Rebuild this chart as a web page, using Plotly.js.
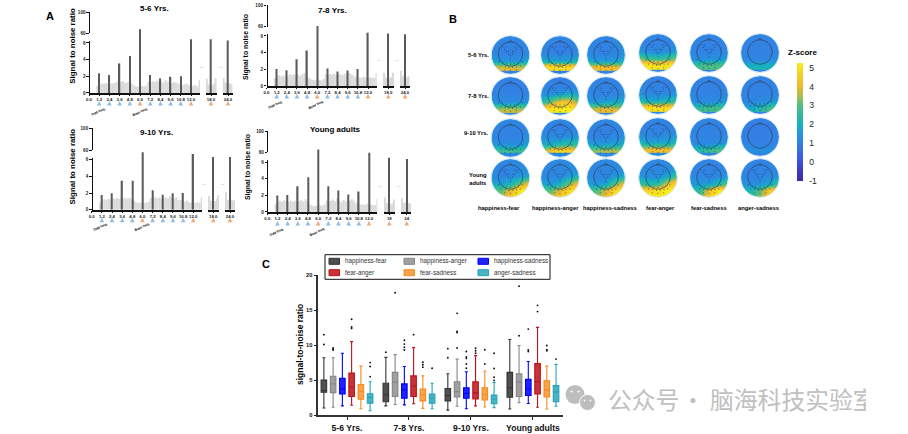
<!DOCTYPE html>
<html><head><meta charset="utf-8">
<script src="https://cdn.plot.ly/plotly-3.0.1.min.js"></script>
<style>html,body{margin:0;padding:0;background:#fff;overflow:hidden}#c{width:908px;height:434px;position:absolute;left:0;top:0}#cut{position:absolute;left:866px;top:380px;width:42px;height:36px;background:#fff}</style>
</head><body><div id="c"></div><div id="cut"></div>
<script>
// ---------- DATA: panel A ----------
const ageGroups = ['5-6 Yrs.','7-8 Yrs.','9-10 Yrs.','Young adults'];
const peakFreqs = [1.2,2.4,3.6,4.8,6.0,7.2,8.4,9.6,10.8,12.0];
const oddFreqs = [1.2,2.4,3.6,4.8,7.2,8.4,9.6,10.8];
const baseFreqs = [6.0,12.0];
const peaks_5_6 = [2.37,2.15,3.55,4.45,7.65,2.15,1.75,1.95,2.0,6.45];
const peaks_7_8 = [2.05,1.9,3.2,4.25,7.2,2.1,1.75,1.85,2.05,6.4];
const peaks_9_10 = [1.76,1.96,3.48,3.48,6.88,2.32,1.8,1.96,2.0,6.68];
const peaks_adult = [2.0,2.04,3.12,4.2,7.56,3.12,2.6,2.12,2.48,7.16];
const peak18 = [6.45,6.3,6.32,6.56];
const peak24 = [6.3,6.2,6.32,6.4];
const noise_5_6 = [.85,1.0,1.15,1.1,1.2,1.05,1.15,1.1,1.2,1.35,1.5,1.3,1.45,1.2,1.3,1.35,1.15,.95,.8,.75,.7,.85,.8,.9,1.35,1.25,1.4,1.3,1.5,1.35,1.4,1.25,1.55,1.3,1.45,1.2,1.35,1.25,1.15,1.0,.95,1.05,1.1,.9,1.0,.85,.95,.8,1.6];
const noise_7_8 = [.95,1.2,1.3,1.15,1.25,1.1,1.2,1.45,1.3,1.4,1.25,1.35,1.2,1.4,1.55,1.3,.95,.8,.75,.7,.8,.75,.7,.85,1.4,1.3,1.45,1.35,1.5,1.3,1.45,1.4,1.3,1.5,1.35,1.55,1.4,1.25,1.1,1.0,1.05,.95,1.1,1.0,.9,1.05,.95,1.0,1.5];
const noise_9_10 = [.9,1.1,1.25,1.2,1.3,1.2,1.35,1.25,1.4,1.3,1.45,1.35,1.4,1.3,1.4,1.25,1.1,.9,.8,.85,.7,.8,.85,.95,1.4,1.3,1.5,1.35,1.45,1.3,1.4,1.5,1.35,1.6,1.45,1.35,1.5,1.2,1.15,1.0,.95,1.1,.9,.85,.95,.8,.9,.85,1.5];
const noise_adult = [1.0,1.15,1.35,1.25,1.45,1.3,1.2,1.4,1.25,1.35,1.2,1.3,1.45,1.25,1.55,1.3,.95,.8,.7,.75,.65,.8,.75,.9,1.4,1.25,1.35,1.5,1.3,1.6,1.35,1.2,1.45,1.3,1.5,1.4,1.55,1.3,1.05,.95,.85,.95,.8,1.0,.85,.9,.8,.85,1.6];
const noise18_5_6 = [1.7,1.1,.9,1.15,1.0,.95,1.2,1.8];
const noise18_7_8 = [1.6,1.05,.95,1.1,.9,1.0,1.1,1.6];
const noise18_9_10 = [1.65,1.2,1.0,1.1,.95,1.05,1.3,1.7];
const noise18_adult = [1.75,1.0,1.1,.85,1.05,.9,1.05,1.5];
const noise24_5_6 = [1.8,1.1,1.25,.95,1.1,1.2,1.05,1.0];
const noise24_7_8 = [1.8,1.15,1.0,1.2,1.1,.95,1.15,1.1];
const noise24_9_10 = [2.1,1.2,1.05,1.2,.95,1.15,1.05,1.1];
const noise24_adult = [1.65,1.1,1.0,1.15,.9,1.1,1.05,1.0];

// ---------- DATA: panel B (rows run from the top of the head to the back) ----------
const pairNames = ['happiness-fear','happiness-anger','happiness-sadness','fear-anger','fear-sadness','anger-sadness'];
const topoRowLabels = ['5-6 Yrs.','7-8 Yrs.','9-10 Yrs.','Young<br>adults'];
const topo_5_6 = [
 [[1.3,1.2,1.2,1.2,1.3],[1.1,1,1,1,1.2],[1.2,1,1,1,1.3],[1.9,1.5,1.4,1.5,2],[3.4,3.6,3.5,3.5,3.2],[4.4,4.8,4.8,4.6,4.2]],
 [[1.2,1.2,1.1,1.2,1.2],[1,1,.9,1,1.1],[1.1,1,1,1,1.2],[2.1,1.8,1.7,1.8,2.3],[4.2,4.8,4.8,4.7,4.1],[4.9,5.2,5.2,5.2,4.9]],
 [[1.2,1.1,1.1,1.2,1.3],[1.1,1,1,1.1,1.3],[1.2,1,1,1.1,1.4],[2,1.6,1.6,1.7,2.1],[3.5,4,4.1,3.9,3.3],[4.2,4.6,4.7,4.4,4]],
 [[1.2,1.1,1.1,1.2,1.2],[1.1,1,1,1,1.2],[1.4,1.2,1.2,1.3,1.6],[3.5,2.8,2.6,2.9,3.6],[4.8,5,5,5,4.8],[5.2,5.2,5.2,5.2,5.1]],
 [[1.2,1.1,1.1,1.1,1.2],[1.1,1,1,1,1.1],[1.2,1,1,1.1,1.2],[1.5,1.3,1.4,1.5,1.7],[2.3,2.6,2.8,2.8,2.4],[3,3.2,3.3,3.2,2.8]],
 [[1.2,1.1,1.1,1.1,1.2],[1.1,1,1,1,1.1],[1.1,1,1,1,1.1],[1.3,1.1,1.1,1.2,1.4],[1.7,1.8,1.9,1.9,1.7],[2.2,2.3,2.4,2.3,2.1]]];
const topo_7_8 = [
 [[1.1,1,1,1.1,1.2],[1,1,.9,1,1.1],[1.1,1,1,1,1.2],[1.5,1.3,1.3,1.4,1.6],[3,3.3,3.4,3.3,2.9],[4.1,4.3,4.4,4.3,3.9]],
 [[1,.9,.9,1,1.1],[1.1,1,1,1,1.3],[1.4,1.3,1.7,1.9,1.6],[2.1,3.2,4.3,4.4,2.8],[4.2,5,5.2,5.2,4.4],[4.9,5.2,5.2,5.2,5]],
 [[1,1,1,1,1.1],[1.1,1,1,1,1.2],[1.2,1,1,1.1,1.3],[1.7,1.5,1.7,1.9,2],[3.2,3.6,3.8,3.7,3.2],[4.1,4.4,4.6,4.4,4]],
 [[1.1,1,1,1,1.2],[1.1,1,1,1,1.2],[1.3,1.1,1.1,1.2,1.5],[2.4,1.9,1.9,2.2,2.6],[4.4,4.9,4.9,4.8,4.3],[5,5.2,5.2,5.2,5]],
 [[1.1,1,1,1,1.1],[1,1,1,1,1],[1.1,1,1,1,1.1],[1.3,1.2,1.2,1.4,1.5],[2.2,2.4,2.6,2.7,2.4],[2.9,3.1,3.2,3.1,2.8]],
 [[1,1,1,1,1.1],[1,1,1,1,1],[1,1,1,1,1.1],[1.1,1.1,1.2,1.4,1.7],[1.6,1.7,2.1,2.7,2.7],[2,2.3,2.8,3.3,3]]];
const topo_9_10 = [
 [[1.3,1.2,1.2,1.2,1.4],[1.1,1,1,1,1.2],[1.2,1,1,1.1,1.4],[1.5,1.3,1.3,1.4,1.8],[2.4,2.6,2.6,2.6,2.3],[3,3.2,3.3,3,2.7]],
 [[1.2,1.1,1.1,1.2,1.3],[1.1,1,1,1,1.2],[1.3,1.2,1.2,1.3,1.5],[1.9,1.8,2.2,2.5,2.4],[3,4.2,4.8,4.6,3.6],[3.6,4.4,4.8,4.7,4]],
 [[1.2,1.2,1.1,1.2,1.3],[1.1,1,1,1,1.2],[1.2,1,1,1.1,1.4],[1.7,1.5,1.6,1.7,2.1],[3,3.3,3.5,3.5,3.1],[3.6,3.8,4,3.9,3.5]],
 [[1.2,1.1,1.1,1.1,1.2],[1.1,1,1,1,1.2],[1.3,1.1,1.1,1.2,1.5],[2.2,1.8,1.8,1.9,2.4],[3.7,4,4.1,4,3.6],[4.2,4.5,4.6,4.4,4.1]],
 [[1.2,1.1,1.1,1.1,1.2],[1.1,1,1,1,1.1],[1.1,1,1,1,1.2],[1.3,1.2,1.2,1.4,1.6],[2,2.2,2.5,2.8,2.7],[2.6,2.9,3.2,3.3,3]],
 [[1.1,1,1,1,1.1],[1,.9,.9,.9,1],[1,.9,.9,1,1],[1.1,1,1,1,1.1],[1.3,1.3,1.3,1.4,1.3],[1.5,1.5,1.6,1.6,1.5]]];
const topo_adult = [
 [[1.3,1.2,1.2,1.3,1.4],[1.2,1,1.1,1.2,1.4],[1.3,1.1,1.2,1.5,1.9],[1.9,1.7,2.1,3.4,4.6],[3,3,4,5.2,5.2],[3.2,3.6,4.6,5.2,5.2]],
 [[1.3,1.2,1.2,1.2,1.4],[1.2,1.1,1.1,1.2,1.4],[1.3,1.1,1.2,1.6,2.1],[1.8,1.6,2,3.4,4.7],[2.9,3,4,5,5.2],[3.4,3.7,4.5,5,5]],
 [[1.3,1.2,1.2,1.2,1.4],[1.2,1.1,1.1,1.2,1.4],[1.3,1.1,1.1,1.5,2],[1.7,1.5,1.8,3.2,4.5],[2.7,2.9,3.8,5,5.2],[3,3.4,4.2,5,5]],
 [[1.3,1.2,1.2,1.2,1.4],[1.2,1.1,1.1,1.2,1.7],[1.5,1.3,1.3,1.8,3],[2.8,2.3,2.4,4.2,5.1],[4.6,4.8,5,5.2,5.2],[5,5.2,5.2,5.2,5.2]],
 [[1.2,1.1,1.1,1.1,1.2],[1.1,1,1,1,1.2],[1.2,1.1,1.1,1.2,1.5],[1.6,1.5,1.6,2.4,3.2],[2.3,2.4,4.2,5.2,4.6],[2.6,3,4.8,5.2,4.4]],
 [[1.2,1.1,1.1,1.1,1.2],[1.1,1,1,1,1.2],[1.2,1,1.1,1.2,1.5],[1.5,1.3,1.4,1.9,2.8],[2,2.1,3,4.6,4.2],[2.4,2.7,3.5,4.5,3.8]]];
const topoGrids = [topo_5_6,topo_7_8,topo_9_10,topo_adult];
// significant electrodes: unit-circle positions, and which groups each map marks
const backElecU = [-.62,-.42,-.22,0,.22,.42,.62,-.5,-.28,-.08,.12,.32,.52,-.3,0,.3];
const backElecV = [.36,.42,.46,.48,.46,.42,.36,.58,.62,.64,.64,.62,.58,.78,.8,.78];
const frontElecU = [-.4,-.3,-.2,-.1,0,.1,.2,.3,.4,-.25,-.1,.1,.25,0];
const frontElecV = [-.42,-.3,-.18,-.06,.04,-.06,-.18,-.3,-.42,-.42,-.2,-.2,-.42,.2];
const hasBack = [[1,1,1,1,1,0],[1,1,1,1,1,1],[1,1,1,1,1,0],[1,1,1,1,1,1]];
const hasFront = [[1,1,1,1,1,0],[0,1,1,1,0,0],[0,1,1,1,0,0],[1,1,1,1,1,1]];
const zTicks = [-1,0,1,2,3,4,5];
const zTickText = ['-1','0','1','2','3','4','5'];

// ---------- DATA: panel C ----------
const groupNames = ['5-6 Yrs.','7-8 Yrs.','9-10 Yrs.','Young adults'];
const hfStats = {lo:[1,1.3,.7,.85],q1:[3.25,1.9,2,2.55],med:[3.5,2.9,2.8,3.9],q3:[5,4.55,3.8,6.1],hi:[8.2,8.25,5.9,10.8]};
const haStats = {lo:[1.1,1.5,1.25,1.75],q1:[3.2,2.65,2.6,2.65],med:[4.45,4.7,3.35,4.7],q3:[5.55,6.1,4.75,5.9],hi:[8.2,8.65,8,9.95]};
const hsStats = {lo:[1.3,1.45,.9,1.65],q1:[3,2.4,2.4,2.8],med:[3.7,3.6,3.1,3.75],q3:[5.25,4.45,3.9,5.1],hi:[8.85,6.95,6.2,7.65]};
const faStats = {lo:[1.4,1.6,1.3,1.1],q1:[2.65,2.65,2.3,3],med:[4,4.15,3.2,4.75],q3:[6,5.6,4.75,7.35],hi:[10.5,9.65,8.5,12.55]};
const fsStats = {lo:[.9,.95,1.15,.85],q1:[2.25,2,2.15,2.6],med:[3.4,2.9,2.95,3.6],q3:[4.35,3.7,3.9,4.9],hi:[7,5.6,6.3,7]};
const asStats = {lo:[.6,.9,1.05,1.25],q1:[1.7,1.7,1.6,1.9],med:[2.5,2.4,2.25,3.3],q3:[3.05,3,2.85,4.2],hi:[4.75,4.55,4.65,7.25]};
const hfOut = [[10.1,11.5],[9],[8.2,9.5],[]];
const haOut = [[9.3,9.6,9.4],[17.5],[9.6,11.8,11.95,14.55],[11.35,18.45]];
const hsOut = [[],[10.7,10.15,9.7,9.3],[6.7,7.3,8.1,8.3,9.1],[9.1,9.3,12.3]];
const faOut = [[12.4,12.6,13.7],[11.5],[8.85,9.2,9.55],[14.8,15.7]];
const fsOut = [[],[7.55,7.2,6.85],[7.3,9.35],[9.2,9.35,9.95]];
const asOut = [[5.5,6.95,7.5],[6.7],[4.95,5.4,6.65,8.85],[8]];
const yTicksC = [0,5,10,15,20];

// ---------- STYLES AND GEOMETRY ----------
const W=908,H=434,FONT='Liberation Sans';
const px=x=>x/W, py=y=>1-y/H;
const blue='#8fbce6', orange='#f0a878', noiseCol='#dadada', peakCol='#5a5a5a';
const boxStyle=[['#333333','rgba(60,60,60,.9)'],['#858585','rgba(150,150,150,.9)'],['#0000ff','rgba(15,15,250,.92)'],['#c0101a','rgba(190,30,35,.9)'],['#f58a1e','rgba(245,155,60,.9)'],['#20a5b8','rgba(55,170,190,.9)']];
const boxData=[[hfStats,hfOut],[haStats,haOut],[hsStats,hsOut],[faStats,faOut],[fsStats,fsOut],[asStats,asOut]];
const panels=[
 {peaks:peaks_5_6,noise:noise_5_6,n18:noise18_5_6,n24:noise24_5_6,x0:89,xEnd:200,x12:191,y0:93,y6:43,u60:33,u100:12,s18:[205.7,216.7,211],s24:[222.7,232.5,228],tri:104,title:[154,9],yl:[72.7,46],noteY:112,notes:[98,140],dash:[[201.7,67],[220.7,67]],boldLabel:true,suffix:'.0'},
 {peaks:peaks_7_8,noise:noise_7_8,n18:noise18_7_8,n24:noise24_7_8,x0:266.5,xEnd:376.7,x12:368,y0:86,y6:36,u60:26.7,u100:5.3,s18:[383,394,388.3],s24:[400,409.5,405],tri:97,title:[332.7,10],yl:[246,47],noteY:105,notes:[275,315.7],dash:[[378.7,60.3],[397.3,60.3]],boldLabel:false,suffix:'.0'},
 {peaks:peaks_9_10,noise:noise_9_10,n18:noise18_9_10,n24:noise24_9_10,x0:91.7,xEnd:202,x12:193.3,y0:209.7,y6:159.7,u60:150,u100:128.3,s18:[208,219,213.3],s24:[225,235,230],tri:220.7,title:[156.7,133],yl:[72.7,166.7],noteY:227,notes:[100.3,142],dash:[[204,183.7],[223,183.7]],boldLabel:true,suffix:'.0'},
 {peaks:peaks_adult,noise:noise_adult,n18:noise18_adult,n24:noise24_adult,x0:267.3,xEnd:377.3,x12:369,y0:212,y6:162.3,u60:152.3,u100:131,s18:[384,395,389.3],s24:[401,411,406.7],tri:224,title:[335.7,129.3],yl:[247.3,166.7],noteY:231.7,notes:[276.7,317],dash:[[380,186],[399,186]],boldLabel:false,suffix:''}
];
const traces=[],layout={width:W,height:H,autosize:false,margin:{l:0,r:0,t:0,b:0},paper_bgcolor:'#fff',plot_bgcolor:'rgba(0,0,0,0)',showlegend:false,barmode:'overlay',font:{family:FONT,color:'#000'},annotations:[],shapes:[]};
let axN=0; const nextAx=()=>{axN++;return axN===1?'':String(axN)};
const note=(x,y,text,size,opt={})=>layout.annotations.push(Object.assign({xref:'paper',yref:'paper',x:px(x),y:py(y),text,showarrow:false,xanchor:opt.anchor||'center',yanchor:'middle',font:{size,family:FONT,color:opt.color||'#000',weight:opt.weight===undefined?700:opt.weight}},opt.extra||{}));
const skip={hoverinfo:'skip',showlegend:false};

// ---------- PANEL B axis comes first ----------
const bIdx=nextAx();
layout['xaxis'+bIdx]={domain:[px(480),px(790)],range:[480,790],visible:false,fixedrange:true};
layout['yaxis'+bIdx]={domain:[py(205),py(30)],range:[205,30],visible:false,fixedrange:true};
layout.coloraxis={cmin:-1,cmax:5.25,
 colorscale:[[0,'#3d26a8'],[.16,'#3e4fdc'],[.32,'#3282e4'],[.4,'#2396dc'],[.48,'#16b4bc'],[.64,'#50c080'],[.72,'#a8bf50'],[.8,'#f0b830'],[.96,'#f8e020'],[1,'#f9f018']],
 colorbar:{x:px(796.7),xanchor:'left',y:py(122),yanchor:'middle',thickness:5.5,thicknessmode:'pixels',len:117.5,lenmode:'pixels',outlinewidth:0,xpad:0,ypad:0,tickmode:'array',tickvals:zTicks,ticktext:zTickText,ticks:'outside',ticklen:5,tickcolor:'rgba(255,255,255,0)',tickfont:{size:8.5,family:FONT,color:'#222'}}};
const colX=[510.5,560,606,658,709,760], rowYLeft=[55,96,138,178], rowYRight=[53,95,137,178], R=19;
const gridU=[-1.05,-.5,0,.5,1.05], gridV=[-1.05,-.5,-.1,.3,.6,1.05];
const circ=(cx,cy,r)=>{const k=.5523*r;return `M${cx-r},${cy} C${cx-r},${cy-k} ${cx-k},${cy-r} ${cx},${cy-r} C${cx+k},${cy-r} ${cx+r},${cy-k} ${cx+r},${cy} C${cx+r},${cy+k} ${cx+k},${cy+r} ${cx},${cy+r} C${cx-k},${cy+r} ${cx-r},${cy+k} ${cx-r},${cy} Z`;};
let maskPath='M478,28 L792,28 L792,207 L478,207 Z ', headPath='', rimPath='';
const dotX=[],dotY=[];
topoGrids.forEach((grid,r)=>grid.forEach((z,c)=>{
  const cx=colX[c], cy=(c<3?rowYLeft:rowYRight)[r];
  traces.push(Object.assign({type:'heatmap',xaxis:'x'+bIdx,yaxis:'y'+bIdx,x:gridU.map(u=>cx+R*u),y:gridV.map(v=>cy+R*v),z,zsmooth:'best',coloraxis:'coloraxis'},skip));
  maskPath+=circ(cx,cy,R)+' ';
  rimPath+=circ(cx,cy,R+.4)+' ';
  headPath+=circ(cx,cy-1,R*.64)+` M${cx-2},${cy-1-R*.63} L${cx},${cy-1-R*.72} L${cx+2},${cy-1-R*.63} `;
  if(hasBack[r][c]) backElecU.forEach((u,i)=>{dotX.push(cx+R*u);dotY.push(cy+R*backElecV[i]);});
  if(hasFront[r][c]) frontElecU.forEach((u,i)=>{dotX.push(cx+R*u);dotY.push(cy+R*frontElecV[i]);});
}));
traces.push(Object.assign({type:'scatter',mode:'markers',xaxis:'x'+bIdx,yaxis:'y'+bIdx,x:dotX,y:dotY,marker:{size:1.1,color:'#1a2a3a',opacity:.7}},skip));
const bRef={xref:'x'+bIdx,yref:'y'+bIdx,layer:'above'};
layout.shapes.push(Object.assign({type:'path',path:maskPath,fillcolor:'#fff',fillrule:'evenodd',line:{width:0}},bRef));
layout.shapes.push(Object.assign({type:'path',path:rimPath,line:{color:'#d5e8f5',width:1}},bRef));
layout.shapes.push(Object.assign({type:'path',path:headPath,line:{color:'#2f3d5c',width:.7}},bRef));
const rowLabelY=[55,96,133,179], rowLabelX=[478,478,476,478];
topoRowLabels.forEach((t,i)=>note(rowLabelX[i],rowLabelY[i],t,5.8));
const colLabelX=[499,555.5,610,660.7,709,758];
pairNames.forEach((t,i)=>note(colLabelX[i],208,t,5.8));
note(802,52.7,'Z-score',8);
note(453,19,'B',11);

// ---------- PANEL A ----------
panels.forEach((p,pi)=>{
  const pxHz=(p.x12-p.x0)/12;
  const xM=nextAx(),x18=nextAx(),x24=nextAx(),yD=nextAx(),yL=nextAx(),yU=nextAx(),yT=nextAx();
  const unit=(p.y0-p.y6)/6, top=p.y0-72;
  const tf=(s)=>({size:s,family:FONT,color:'#222',weight:700});
  layout['yaxis'+yD]={domain:[py(p.y0),py(top)],range:[0,(p.y0-top)/unit],visible:false,fixedrange:true,anchor:'x'+xM};
  layout['yaxis'+yL]={domain:[py(p.y0),py(p.y0-6.25*unit)],range:[0,6.25],anchor:'free',position:px(p.x0),tickvals:[0,2,4,6],ticks:'outside',ticklen:2.5,showgrid:false,zeroline:false,showline:true,linewidth:1.1,linecolor:'#111',tickcolor:'#111',tickwidth:1,tickfont:tf(4.6),fixedrange:true};
  layout['yaxis'+yU]={domain:[py(p.u60),py(p.u100)],range:[60,100],anchor:'free',position:px(p.x0),tickvals:[60,100],ticks:'outside',ticklen:2.5,showgrid:false,zeroline:false,showline:true,linewidth:1.1,linecolor:'#111',tickcolor:'#111',tickwidth:1,tickfont:tf(4.6),fixedrange:true};
  layout['yaxis'+yT]={domain:[py(p.tri+6),py(p.tri-6)],range:[0,1],visible:false,fixedrange:true,anchor:'x'+xM};
  const mk=(dom,rng,vals,txt)=>({domain:dom,range:rng,anchor:'y'+yD,tickvals:vals,ticktext:txt,tickmode:'array',tickangle:0,ticks:'outside',ticklen:1.5,tickwidth:1,tickcolor:'#111',showgrid:false,zeroline:false,showline:true,linecolor:'#111',linewidth:1.5,tickfont:tf(4.3),fixedrange:true});
  layout['xaxis'+xM]=mk([px(p.x0),px(p.xEnd)],[0,(p.xEnd-p.x0)/pxHz],[0].concat(peakFreqs),[0].concat(peakFreqs).map(v=>v.toFixed(1)));
  layout['xaxis'+x18]=mk([px(p.s18[0]),px(p.s18[1])],[18-(p.s18[2]-p.s18[0])/pxHz,18+(p.s18[1]-p.s18[2])/pxHz],[18],['18'+p.suffix]);
  layout['xaxis'+x24]=mk([px(p.s24[0]),px(p.s24[1])],[24-(p.s24[2]-p.s24[0])/pxHz,24+(p.s24[1]-p.s24[2])/pxHz],[24],['24'+p.suffix]);
  const bar=(ax,x,y,width,color)=>traces.push(Object.assign({type:'bar',xaxis:'x'+ax,yaxis:'y'+yD,x,y,width,marker:{color,line:{width:0}}},skip));
  // noise floor
  bar(xM,p.noise.map((_,i)=>1+.25*i),p.noise,.25,noiseCol);
  const r18=layout['xaxis'+x18].range, r24=layout['xaxis'+x24].range;
  bar(x18,p.n18.map((_,i)=>r18[0]+(r18[1]-r18[0])*(i+.5)/p.n18.length),p.n18,(r18[1]-r18[0])/p.n18.length,noiseCol);
  bar(x24,p.n24.map((_,i)=>r24[0]+(r24[1]-r24[0])*(i+.5)/p.n24.length),p.n24,(r24[1]-r24[0])/p.n24.length,noiseCol);
  // response peaks
  bar(xM,peakFreqs,p.peaks,.15,peakCol);
  bar(x18,[18],[peak18[pi]],.15,peakCol);
  bar(x24,[24],[peak24[pi]],.15,peakCol);
  // dummy markers keep the visible broken axes alive
  traces.push(Object.assign({type:'scatter',mode:'markers',xaxis:'x'+xM,yaxis:'y'+yL,x:[0,0],y:[0,6],marker:{size:1,opacity:0}},skip));
  traces.push(Object.assign({type:'scatter',mode:'markers',xaxis:'x'+xM,yaxis:'y'+yU,x:[0,0],y:[60,100],marker:{size:1,opacity:0}},skip));
  // stimulus triangles: the arrow symbol hangs from its tip, so it sits above mid-band
  const tri=(ax,x,color)=>traces.push(Object.assign({type:'scatter',mode:'markers',xaxis:'x'+ax,yaxis:'y'+yT,x,y:x.map(()=>.75),marker:{symbol:'arrow-up',size:4.6,color,line:{width:0}}},skip));
  tri(xM,oddFreqs,blue); tri(xM,baseFreqs,orange); tri(x18,[18],orange); tri(x24,[24],orange);
  note(p.title[0],p.title[1],ageGroups[pi],8);
  note(p.yl[0],p.yl[1],'Signal to noise ratio',p.boldLabel?7.9:6.9,{extra:{textangle:-90},weight:p.boldLabel?700:600});
  p.notes.forEach((x,i)=>note(x,p.noteY,i?'Base freq.':'Odd freq.',3.4,{extra:{textangle:-25}}));
  p.dash.forEach(d=>note(d[0],d[1],'--',5,{color:'#aaa',weight:400}));
});
note(50,16,'A',11);

// ---------- PANEL C ----------
const cX=nextAx(),cY=nextAx();
const xUnit=9.25, groupStep=6.7;
layout['xaxis'+cX]={domain:[px(318.3),px(562.7)],range:[(318.3-347)/xUnit,(562.7-347)/xUnit],anchor:'y'+cY,tickmode:'array',tickvals:groupNames.map((_,g)=>g*groupStep),ticktext:groupNames,tickangle:0,ticks:'outside',ticklen:3.5,tickwidth:1.2,tickcolor:'#222',showgrid:false,zeroline:false,showline:true,linecolor:'#333',linewidth:1.5,tickfont:{size:8.6,family:FONT,color:'#111',weight:700},fixedrange:true};
layout['yaxis'+cY]={domain:[py(415),py(275.3)],range:[0,20],anchor:'x'+cX,tickmode:'array',tickvals:yTicksC,ticks:'outside',ticklen:3,tickwidth:1.2,tickcolor:'#222',showgrid:false,zeroline:false,showline:true,linecolor:'#333',linewidth:1.5,tickfont:{size:5.8,family:FONT,color:'#111',weight:700},fixedrange:true};
pairNames.forEach((name,j)=>{
  const [s,out]=boxData[j];
  const xs=groupNames.map((_,g)=>g*groupStep+j-2.5);
  traces.push({type:'box',name,xaxis:'x'+cX,yaxis:'y'+cY,x:xs,q1:s.q1,median:s.med,q3:s.q3,lowerfence:s.lo,upperfence:s.hi,boxpoints:false,width:.6,whiskerwidth:.55,line:{color:boxStyle[j][0],width:1.1},fillcolor:boxStyle[j][1],hoverinfo:'skip',showlegend:false});
  const ox=[],oy=[];
  out.forEach((vals,g)=>vals.forEach(v=>{ox.push(xs[g]);oy.push(v);}));
  traces.push(Object.assign({type:'scatter',mode:'markers',xaxis:'x'+cX,yaxis:'y'+cY,x:ox,y:oy,marker:{size:1.9,color:'#111'}},skip));
});
// legend frame with three columns of two rows, as in the original
const legX=[329,404,478], legY=[261.3,272.7], legOrder=[[0,1,2],[3,4,5]];
layout.shapes.push({type:'rect',xref:'paper',yref:'paper',x0:px(325),x1:px(550),y0:py(279.3),y1:py(254.7),line:{color:'#111',width:1},fillcolor:'#fff',layer:'above'});
legOrder.forEach((row,r)=>row.forEach((j,c)=>{
  layout.shapes.push({type:'rect',xref:'paper',yref:'paper',x0:px(legX[c]),x1:px(legX[c]+10.5),y0:py(legY[r]+3),y1:py(legY[r]-3),line:{color:boxStyle[j][0],width:1},fillcolor:boxStyle[j][1],layer:'above'});
  note(legX[c]+14,legY[r],pairNames[j],6.3,{anchor:'left',color:'#333',weight:400});
}));
note(300,345,'signal-to-noise ratio',8.5,{extra:{textangle:-90}});
note(266,264,'C',11);

// ---------- WATERMARK ----------
const wmShape=(cx,cy,rx,color,line)=>layout.shapes.push({type:'circle',xref:'paper',yref:'paper',x0:px(cx-rx),x1:px(cx+rx),y0:py(cy+rx),y1:py(cy-rx),fillcolor:color,line:line?{color:line,width:1}:{width:0},layer:'above'});
wmShape(575,394.5,9.5,'#bdbdbd');
wmShape(587.5,402.5,8,'#bdbdbd','#fff');
wmShape(571.5,391.5,1.1,'#fff'); wmShape(578.5,391.5,1.1,'#fff');
wmShape(584.5,400.5,.9,'#fff'); wmShape(590.5,400.5,.9,'#fff');
layout.annotations.push({xref:'paper',yref:'paper',x:px(606),y:py(398),xanchor:'left',yanchor:'middle',showarrow:false,text:'公众号\u200A· 脑海科技实验室',font:{family:'Noto Sans CJK SC',size:23.8,color:'#c0c0c0'}});

Plotly.newPlot('c',traces,layout,{displayModeBar:false,responsive:false});
</script></body></html>
